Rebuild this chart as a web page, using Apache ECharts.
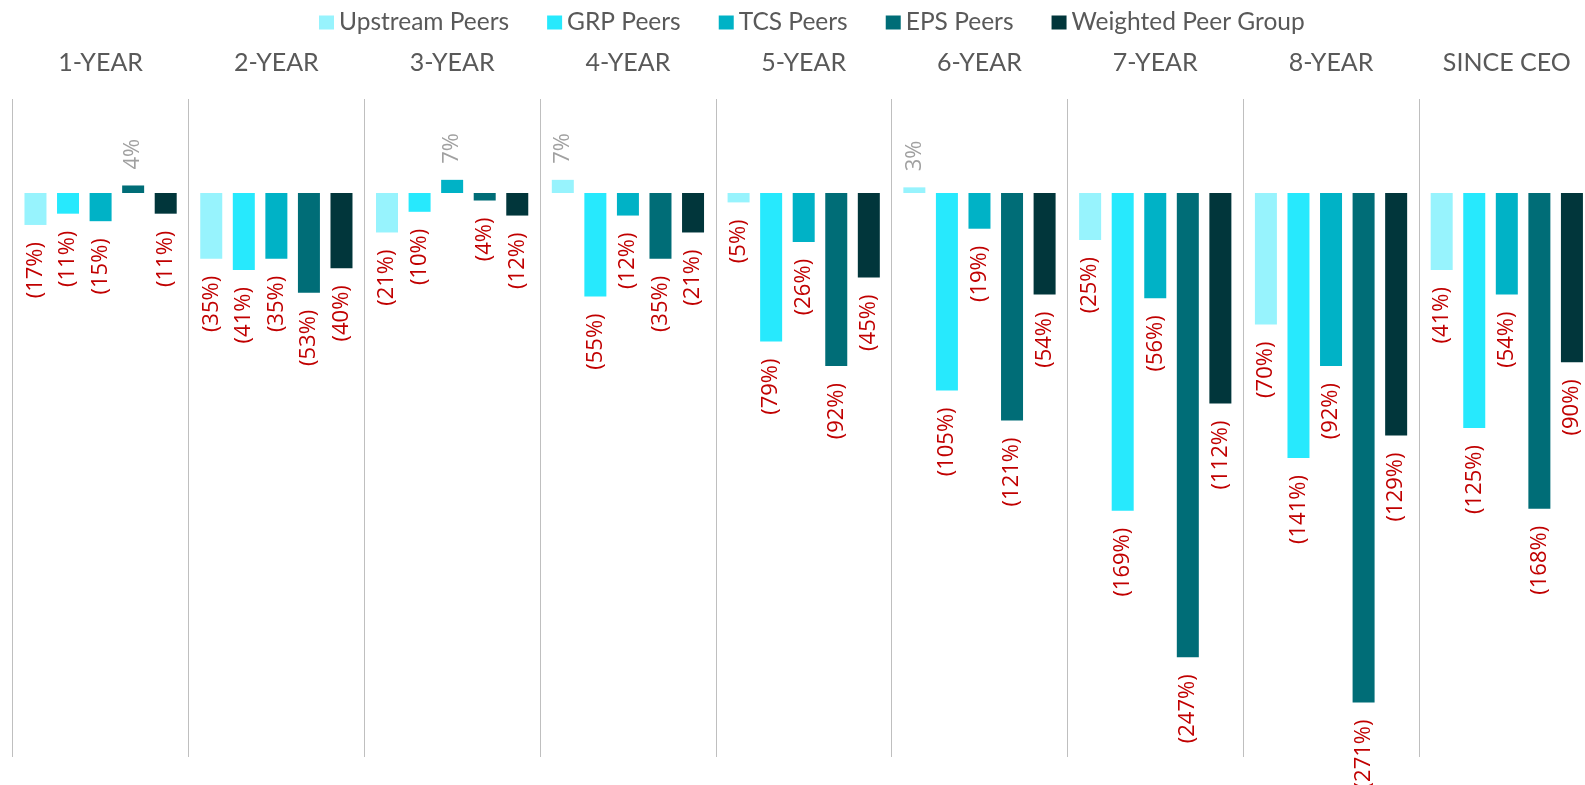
<!DOCTYPE html>
<html>
<head>
<meta charset="utf-8">
<title>Peer TSR comparison</title>
<script src="https://cdn.jsdelivr.net/npm/echarts@6/dist/echarts.min.js"></script>
<style>
  html, body { margin: 0; padding: 0; background: #fff; }
  #chart { width: 1585px; height: 785px; }
</style>
</head>
<body>
<div id="chart"></div>
<script>
// periods along the top
const periods = ['1-YEAR', '2-YEAR', '3-YEAR', '4-YEAR', '5-YEAR', '6-YEAR', '7-YEAR', '8-YEAR', 'SINCE CEO'];

// values in %, one per period
const upstreamPeers = [-17, -35, -21, 7, -5, 3, -25, -70, -41];
const grpPeers = [-11, -41, -10, -55, -79, -105, -169, -141, -125];
const tcsPeers = [-15, -35, 7, -12, -26, -19, -56, -92, -54];
const epsPeers = [4, -53, -4, -35, -92, -121, -247, -271, -168];
const weightedPeerGroup = [-11, -40, -12, -21, -45, -54, -112, -129, -90];

const chart = echarts.init(document.getElementById('chart'));

// negatives in red below the bar, positives in grey above, both vertical
const negLabel = {
    show: true,
    position: 'bottom',
    rotate: 90,
    align: 'right',
    verticalAlign: 'middle',
    distance: 17,
    color: '#C00000',
    fontFamily: 'Open Sans',
    fontSize: 22
};
const posLabel = {
    show: true,
    position: 'top',
    rotate: 90,
    align: 'left',
    verticalAlign: 'middle',
    distance: 16,
    color: '#A0A0A0',
    fontFamily: 'Open Sans',
    fontSize: 22
};

const fmt = (p) => p.value < 0 ? '(' + Math.abs(p.value) + '%)' : p.value + '%';

function barSeries(name, values, color) {
    return {
        name: name,
        type: 'bar',
        barWidth: 22,
        barGap: '48%',
        itemStyle: { color: color },
        data: values.map(v => ({
            value: v,
            label: Object.assign({ formatter: fmt }, v < 0 ? negLabel : posLabel)
        }))
    };
}

const option = {
    animation: false,
    backgroundColor: '#fff',
    legend: {
        top: 5,
        left: 314,
        icon: 'rect',
        itemWidth: 15,
        itemHeight: 14,
        itemGap: 38,
        textStyle: { color: '#595959', fontFamily: 'Lato', fontSize: 24.5 }
    },
    // last period runs past the right edge, as in the original
    grid: {
        top: 99,
        height: 658,
        left: 12.7,
        width: 1582,
        containLabel: false,
        outerBoundsMode: 'none'
    },
    xAxis: {
        type: 'category',
        position: 'top',
        data: periods,
        axisLine: { show: false },
        axisTick: { show: false },
        axisLabel: {
            color: '#595959',
            fontFamily: 'Lato',
            fontSize: 25,
            margin: 24,
            interval: 0
        },
        splitLine: {
            show: true,
            interval: 0,
            lineStyle: { color: '#BFBFBF', width: 1 }
        }
    },
    yAxis: {
        type: 'value',
        min: -300,
        max: 50,
        show: false
    },
    series: [
        barSeries('Upstream Peers', upstreamPeers, '#97F3FD'),
        barSeries('GRP Peers', grpPeers, '#27E9FD'),
        barSeries('TCS Peers', tcsPeers, '#00B2C6'),
        barSeries('EPS Peers', epsPeers, '#006D77'),
        barSeries('Weighted Peer Group', weightedPeerGroup, '#01363B')
    ]
};

chart.setOption(option);
window.addEventListener('resize', () => chart.resize());
</script>
</body>
</html>
